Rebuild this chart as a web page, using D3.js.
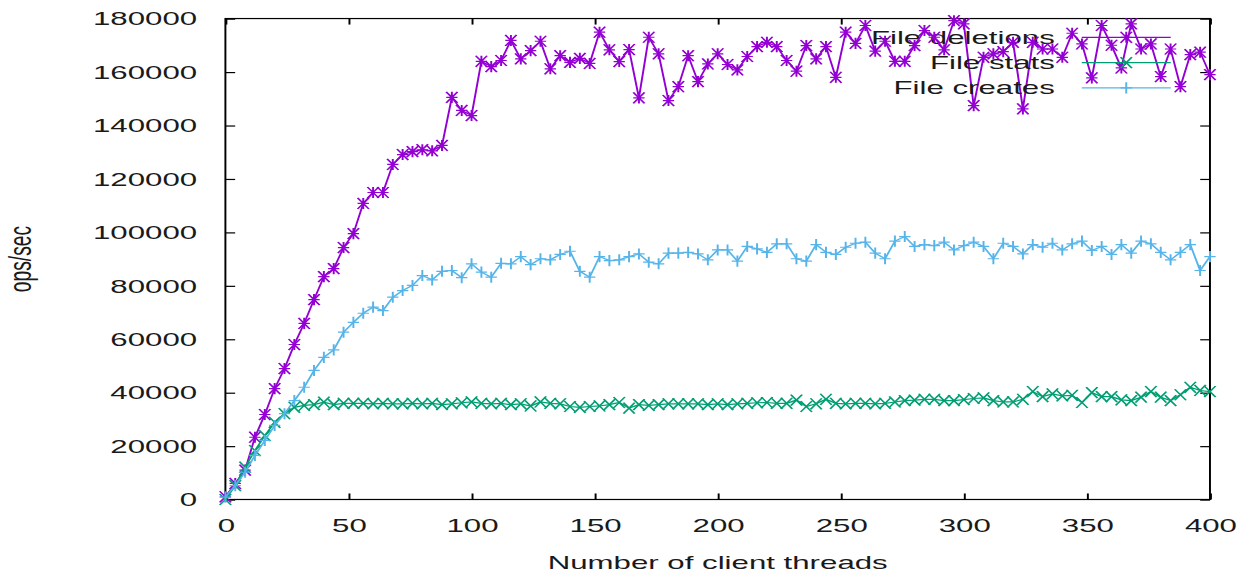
<!DOCTYPE html>
<html>
<head>
<meta charset="utf-8">
<script src="https://cdn.jsdelivr.net/npm/d3@7"></script>
<style>
  html, body { margin: 0; padding: 0; background: #fff; }
  svg { display: block; }
  text { font-family: "Liberation Sans", Arial, sans-serif; fill: #1a1a1a; }
</style>
</head>
<body>
<svg id="chart" width="1249" height="578"></svg>
<script>
// ---- data ----
const threads = [0,4,8,12,16,20,24,28,32,36,40,44,48,52,56,60,64,68,72,76,80,84,88,92,96,100,
  104,108,112,116,120,124,128,132,136,140,144,148,152,156,160,164,168,172,176,180,184,188,192,196,200,
  204,208,212,216,220,224,228,232,236,240,244,248,252,256,260,264,268,272,276,280,284,288,292,296,300,
  304,308,312,316,320,324,328,332,336,340,344,348,352,356,360,364,368,372,376,380,384,388,392,396,400];

const fileDeletions = [1000,6000,11000,23300,31800,41500,49000,58000,65900,74800,83400,86400,94300,99500,
  110800,114900,114900,125400,129100,130200,130900,130500,132500,150500,145600,143700,
  164000,162000,164300,171800,164900,168000,171500,161200,166100,163600,165100,163200,174900,168300,163900,
  168400,150300,173000,166800,149300,154500,166100,156400,163000,166800,
  162800,160800,165800,169500,171100,169500,164300,160300,169900,164900,169500,158000,174900,170700,177400,
  167800,171500,164000,164000,169900,175500,173000,168300,179200,178000,
  147400,165500,166800,167600,171100,146200,171100,168600,168600,165500,174500,170500,157800,177400,170000,
  161500,178000,168600,170500,158300,168600,154500,166500,167400,159000];

const fileStats = [0,5200,12100,18300,23900,28900,32100,34500,35200,35500,36400,35500,36000,36000,36000,
  35800,36000,35800,35800,36000,35800,36000,35500,35800,36200,36500,
  36000,35800,36000,35500,35800,35000,36500,36000,35800,34800,34500,34800,35000,35500,36300,
  34200,35500,35200,35500,35800,35800,35800,35800,35500,35800,
  35500,35800,36000,36200,36300,36000,36000,37200,34800,35800,37500,36000,35800,36000,36000,
  35800,36000,36500,37000,37200,37500,37500,37000,37000,37400,
  37800,38000,37000,36500,36500,37500,40400,38500,39500,38800,39000,36300,40000,38500,38500,
  37300,37000,38300,40400,38300,37000,39200,42000,40800,40400];

const fileCreates = [900,5200,10200,16500,22100,27700,32100,37000,42000,48300,53200,56000,62600,66300,
  69700,72000,70700,75700,78200,80100,83800,82200,85400,85700,83000,88200,
  85100,83200,88400,88200,90900,87900,90100,89700,91700,92900,85400,83200,90900,89400,89700,
  90900,91900,88800,88200,92200,92200,92500,91900,89700,93400,
  93400,89200,94700,93800,92500,95700,95700,90100,89200,95400,92500,91700,94400,95900,96300,
  92200,90100,96700,98400,94700,95400,95000,96300,93400,95000,
  96300,94700,90100,95900,94700,91900,95400,94400,95900,93400,95700,96700,93200,94700,91700,
  95400,92200,96700,95700,92500,89700,92500,95400,85700,90900];

const seriesNames = ["File deletions", "File stats", "File creates"];
const seriesColors = ["#9400D3", "#009E73", "#56B4E9"];
const seriesMarkers = ["star", "cross", "plus"];
const seriesValues = [fileDeletions, fileStats, fileCreates];

const xTicks = [0,50,100,150,200,250,300,350,400];
const yTicks = [0,20000,40000,60000,80000,100000,120000,140000,160000,180000];
const xTitle = "Number of client threads";
const yTitle = "ops/sec";

// ---- layout: original gnuplot canvas 640x480, stretched to 1249x578 ----
const W0 = 640, H0 = 480;
const sx = 1249 / W0, sy = 578 / H0;
const plot = { left: 115.5, right: 620, top: 15.4, bottom: 414.8 };

const svg = d3.select("#chart");
const root = svg.append("g").attr("transform", `scale(${sx},${sy})`);

const x = d3.scaleLinear().domain([0, 400]).range([plot.left, plot.right]);
const y = d3.scaleLinear().domain([0, 180000]).range([plot.bottom, plot.top]);

const fontSize = 16;
const tick = 5;

// axes (ticks pointing inward, mirrored on top/right)
const gLeft = root.append("g").attr("transform", `translate(${plot.left},0)`)
  .call(d3.axisLeft(y).tickValues(yTicks).tickSizeInner(-tick).tickSizeOuter(0).tickPadding(14.5).tickFormat(d3.format("d")));
const gBottom = root.append("g").attr("transform", `translate(0,${plot.bottom})`)
  .call(d3.axisBottom(x).tickValues(xTicks).tickSizeInner(-tick).tickSizeOuter(0).tickPadding(15.6).tickFormat(d3.format("d")));
const gRight = root.append("g").attr("transform", `translate(${plot.right},0)`)
  .call(d3.axisRight(y).tickValues(yTicks).tickSizeInner(-tick).tickSizeOuter(0).tickFormat(""));
const gTop = root.append("g").attr("transform", `translate(0,${plot.top})`)
  .call(d3.axisTop(x).tickValues(xTicks).tickSizeInner(-tick).tickSizeOuter(0).tickFormat(""));

[gLeft, gBottom, gRight, gTop].forEach(g => {
  g.select(".domain").remove();
  g.selectAll(".tick line").attr("stroke", "#000").attr("stroke-width", 1);
  g.selectAll("text").attr("font-size", fontSize).attr("fill", "#1a1a1a")
    .style("font-family", '"Liberation Sans", Arial, sans-serif');
});
// hide the top/right tick labels at plot edges
gRight.selectAll("text").remove();
gTop.selectAll("text").remove();

// border
root.append("rect")
  .attr("x", plot.left).attr("y", plot.top)
  .attr("width", plot.right - plot.left).attr("height", plot.bottom - plot.top)
  .attr("fill", "none").attr("stroke", "#000").attr("stroke-width", 1);

// axis titles
root.append("text")
  .attr("transform", `translate(10.5,${(plot.top + plot.bottom) / 2}) rotate(-90)`)
  .attr("text-anchor", "middle").attr("dy", "0.35em")
  .attr("font-size", fontSize).text(yTitle);
root.append("text")
  .attr("x", (plot.left + plot.right) / 2).attr("y", 472.5)
  .attr("text-anchor", "middle")
  .attr("font-size", fontSize).text(xTitle);

// markers
const hx = 2.9, hy = 4.6;
function markerPath(type, px, py) {
  const plus = `M${px - hx},${py}H${px + hx}M${px},${py - hy}V${py + hy}`;
  const cross = `M${px - hx},${py - hy}L${px + hx},${py + hy}M${px - hx},${py + hy}L${px + hx},${py - hy}`;
  if (type === "plus") return plus;
  if (type === "cross") return cross;
  return plus + cross;
}

const clip = root.append("clipPath").attr("id", "plotclip")
  .append("rect").attr("x", plot.left - 6).attr("y", plot.top - 8)
  .attr("width", plot.right - plot.left + 12).attr("height", plot.bottom - plot.top + 16);

const line = d3.line().x(d => x(d[0])).y(d => y(d[1]));

const legendRows = [31, 52, 73];
const legendTextX = 540.5, legendLineX0 = 554.3, legendLineX1 = 599.9;

seriesValues.forEach((vals, i) => {
  const color = seriesColors[i];
  // legend entry (drawn before its series, as gnuplot does)
  const ly = legendRows[i];
  root.append("text").attr("x", legendTextX).attr("y", ly).attr("dy", "0.33em")
    .attr("text-anchor", "end").attr("font-size", fontSize).text(seriesNames[i]);
  root.append("line").attr("x1", legendLineX0).attr("x2", legendLineX1)
    .attr("y1", ly).attr("y2", ly).attr("stroke", color).attr("stroke-width", 1);
  root.append("path").attr("d", markerPath(seriesMarkers[i], (legendLineX0 + legendLineX1) / 2, ly))
    .attr("stroke", color).attr("stroke-width", 1).attr("fill", "none");

  const pts = threads.map((t, k) => [t, vals[k]]);
  const g = root.append("g").attr("clip-path", "url(#plotclip)");
  g.append("path").datum(pts).attr("d", line)
    .attr("fill", "none").attr("stroke", color).attr("stroke-width", 1);
  g.selectAll("path.mk").data(pts).enter().append("path").attr("class", "mk")
    .attr("d", d => markerPath(seriesMarkers[i], x(d[0]), y(d[1])))
    .attr("stroke", color).attr("stroke-width", 1).attr("fill", "none");
});
</script>
</body>
</html>
